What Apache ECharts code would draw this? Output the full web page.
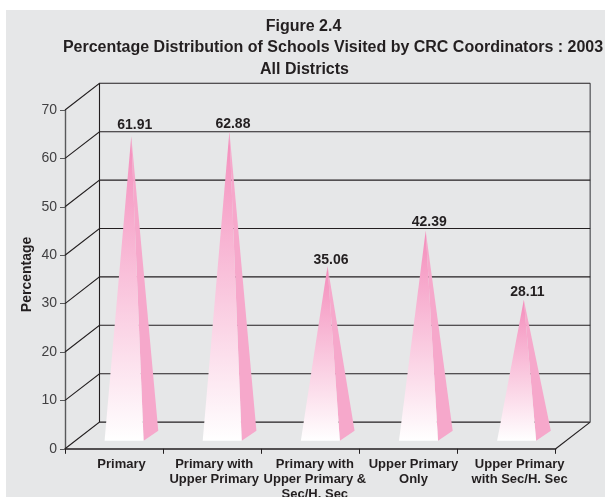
<!DOCTYPE html>
<html>
<head>
<meta charset="utf-8">
<style>html,body{margin:0;padding:0;background:#fff}#c{width:605px;height:497px}</style>
<script src="https://cdn.jsdelivr.net/npm/echarts@6/dist/echarts.min.js"></script>
</head>
<body>
<div id="c"></div>
<script>
const categories = ['Primary', 'Primary with\nUpper Primary', 'Primary with\nUpper Primary &\nSec/H. Sec', 'Upper Primary\nOnly', 'Upper Primary\nwith Sec/H. Sec'];
const values = [61.91, 62.88, 35.06, 42.39, 28.11];
const yTicks = [0, 10, 20, 30, 40, 50, 60, 70];
const titleLines = ['Figure 2.4', 'Percentage Distribution of Schools Visited by CRC Coordinators : 2003', 'All Districts'];

const labelShift = [15, 4, 9, 10, 26];
const valueLift = [11, 7.5, 6, 8.5, 8];
const DX = 34.5, DY = -26.7;
const INK = '#231f20';
const font = 'Liberation Sans, Arial, sans-serif';

const chart = echarts.init(document.getElementById('c'), null, { renderer: 'canvas' });

function wallItem(params, api) {
  const v = api.value(0);
  const p = api.coord([0, v]);
  const yFront = p[1];
  const xL = params.coordSys.x, xR = xL + params.coordSys.width;
  const children = [
    { type: 'polyline', shape: { points: [[xL, yFront], [xL + DX, yFront + DY], [xR + DX, yFront + DY]] },
      style: { stroke: INK, lineWidth: 1.1, fill: null } }
  ];
  if (v === 0) {
    children.push({ type: 'line', shape: { x1: xR, y1: yFront, x2: xR + DX, y2: yFront + DY }, style: { stroke: INK, lineWidth: 1.1 } });
    const topY = api.coord([0, 70])[1] + DY;
    children.push({ type: 'line', shape: { x1: xL + DX, y1: yFront + DY, x2: xL + DX, y2: topY }, style: { stroke: INK, lineWidth: 1.1 } });
    children.push({ type: 'line', shape: { x1: xR + DX, y1: yFront + DY, x2: xR + DX, y2: topY }, style: { stroke: '#6d6e71', lineWidth: 1.5 } });
  }
  return { type: 'group', children };
}

function pyramidItem(params, api) {
  const cat = api.value(0), v = api.value(1);
  const c = api.coord([cat, 0]);
  const zero = c[1];
  const apex = api.coord([cat, v]);
  const cx = c[0] + 10;
  const L = cx - 19.5, R = cx + 19.5;
  const fy = zero - 8, by = zero - 18;
  const ax = c[0] + 17.2, ay = apex[1] - 13;
  return {
    type: 'group',
    children: [
      { type: 'polygon', shape: { points: [[R, fy], [R + 14.7, by], [ax, ay]] }, style: { fill: '#f6a8cb' } },
      { type: 'polygon', shape: { points: [[L, fy], [R, fy], [ax, ay]] },
        style: { fill: new echarts.graphic.LinearGradient(0, 0, 0, 1, [
          { offset: 0, color: '#f48cbb' }, { offset: 1, color: '#ffffff' }]) } },
      { type: 'text', x: ax + 3.5, y: ay - valueLift[cat],
        style: { text: v.toFixed(2), fill: INK, font: 'bold 14px ' + font, textAlign: 'center', textVerticalAlign: 'middle' } }
    ]
  };
}

chart.setOption({
  animation: false,
  backgroundColor: '#ffffff',
  graphic: [{ type: 'rect', z: -10, silent: true, shape: { x: 6, y: 10, width: 599, height: 487 }, style: { fill: '#e6e7e8' } }],
  title: titleLines.map((t, i) => ({
    text: t, left: [298.5, 328, 299.5][i], top: [14, 35, 57][i], textAlign: 'center',
    textStyle: { fontFamily: font, fontWeight: 'bold', fontSize: 16, color: INK }
  })),
  grid: { left: 65, top: 110, width: 490.7, height: 338.8, outerBoundsMode: 'none' },
  xAxis: {
    type: 'category',
    data: categories.map((c, i) => ({ value: c, textStyle: { padding: [0, 0, 0, labelShift[i]] } })),
    axisLine: { lineStyle: { color: INK, width: 1.5 } },
    axisTick: { show: true, length: 5, alignWithLabel: false, lineStyle: { color: INK, width: 1 } },
    axisLabel: { interval: 0, margin: 8, color: INK, fontFamily: font, fontWeight: 'bold', fontSize: 13, lineHeight: 15 }
  },
  yAxis: {
    type: 'value', min: 0, max: 70, interval: 10,
    name: 'Percentage', nameLocation: 'middle', nameGap: 31, nameRotate: 90, nameMoveOverlap: false,
    nameTextStyle: { fontFamily: font, fontWeight: 'bold', fontSize: 14, color: INK, padding: [0, 0, 0, 10] },
    axisLine: { show: true, lineStyle: { color: '#58595b', width: 1.4 } },
    axisTick: { show: true, length: 5, lineStyle: { color: '#58595b', width: 1 } },
    axisLabel: { margin: 8, color: '#414042', fontFamily: font, fontSize: 14 },
    splitLine: { show: false }
  },
  series: [
    { type: 'custom', clip: false, z: 1, renderItem: wallItem, data: yTicks.map(v => [v]), encode: { y: 0 } },
    { type: 'custom', clip: false, z: 2, renderItem: pyramidItem, data: values.map((v, i) => [i, v]), encode: { x: 0, y: 1 } }
  ]
});
</script>
</body>
</html>
